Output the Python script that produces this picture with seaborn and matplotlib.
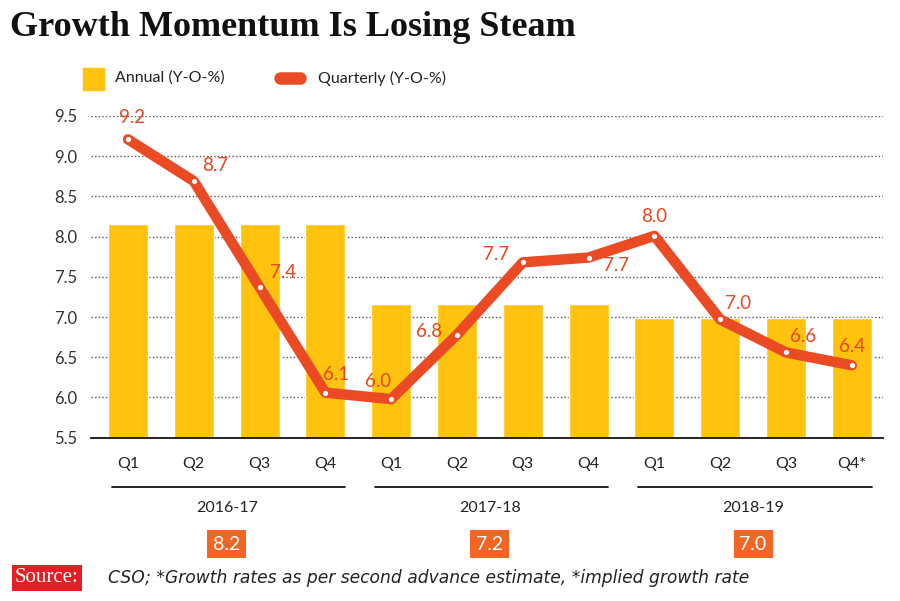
import matplotlib
matplotlib.use("Agg")
import matplotlib.pyplot as plt
import matplotlib.transforms as mtransforms
from matplotlib.patches import Rectangle
from matplotlib.lines import Line2D
import seaborn as sns
import pandas as pd

# ---- data ----
quarters = ["Q1", "Q2", "Q3", "Q4", "Q1", "Q2", "Q3", "Q4", "Q1", "Q2", "Q3", "Q4*"]
years = ["2016-17", "2017-18", "2018-19"]
annual_values = [8.16, 7.16, 6.99]
annual_labels = ["8.2", "7.2", "7.0"]
quarterly_values = [9.21, 8.69, 7.37, 6.06, 5.98, 6.78, 7.68, 7.74, 8.01, 6.97, 6.56, 6.40]
quarterly_labels = ["9.2", "8.7", "7.4", "6.1", "6.0", "6.8", "7.7", "7.7", "8.0", "7.0", "6.6", "6.4"]
yticks = [5.5, 6.0, 6.5, 7.0, 7.5, 8.0, 8.5, 9.0, 9.5]

# label offsets (pixels) relative to points
label_offsets = [(4, 22), (21, 16), (23, 15), (11, 18), (-13, 18), (-28, 3),
                 (-27, 8), (27, -8), (0, 19), (18, 16), (17, 16), (0, 19)]

BAR = "#FFC20E"
LINE = "#EA4B24"
LABEL = "#E8461E"
BOX = "#F26522"

sns.set_theme(style="white")
plt.rcParams["font.family"] = ["Lato", "DejaVu Sans"]

fig = plt.figure(figsize=(9, 6.01), dpi=100)
ax = fig.add_axes([91 / 900, 1 - 437.7 / 601, 792 / 900, 321.7 / 601])

idx = list(range(len(quarters)))
bar_vals = [annual_values[i // 4] for i in idx]
df = pd.DataFrame({"pos": idx, "annual": bar_vals, "quarterly": quarterly_values})

# grid lines (dotted) behind bars
for yv in yticks[1:]:
    ax.axhline(yv, color="#555555", linestyle=(0, (1, 1.6)), linewidth=1.0, zorder=0)

sns.barplot(data=df, x="pos", y="annual", color=BAR, width=40 / 65.8,
            saturation=1, ax=ax, zorder=2, native_scale=True)
sns.lineplot(data=df, x="pos", y="quarterly", color=LINE, linewidth=7.5, ax=ax,
             zorder=3, solid_joinstyle="round", solid_capstyle="round")
ax.scatter(idx, quarterly_values, s=14, color="white", zorder=4, linewidths=0)

for i, (v, lab) in enumerate(zip(quarterly_values, quarterly_labels)):
    dx, dy = label_offsets[i]
    ax.annotate(lab, (i, v), xytext=(dx, dy), textcoords="offset pixels",
                ha="center", va="center", color=LABEL, fontsize=13.5, zorder=5)

ax.set_xlim(-0.562, 11.474)
ax.set_ylim(5.5, 9.5)
ax.set_yticks(yticks)
ax.set_yticklabels([f"{t:.1f}" for t in yticks], fontsize=12, color="#333333")
ax.set_xticks(idx)
ax.set_xticklabels(quarters, fontsize=11.5, color="#222222")
ax.tick_params(axis="both", length=0)
ax.tick_params(axis="x", pad=14)
ax.tick_params(axis="y", pad=10)
ax.set_xlabel("")
ax.set_ylabel("")
for s in ["top", "right", "left"]:
    ax.spines[s].set_visible(False)
ax.spines["bottom"].set_color("#111111")
ax.spines["bottom"].set_linewidth(1.3)
ax.spines["bottom"].set_zorder(6)

# group lines, year labels, annual boxes
trans = mtransforms.blended_transform_factory(ax.transData, fig.transFigure)
for g, (yr, lab) in enumerate(zip(years, annual_labels)):
    x0 = g * 4 - 0.25
    x1 = g * 4 + 3.3
    ax.add_line(Line2D([x0, x1], [1 - 487 / 601] * 2, transform=trans,
                       color="#111111", linewidth=1.3, clip_on=False))
    cx = g * 4 + 1.5
    ax.text(cx, 1 - 508 / 601, yr, transform=trans, ha="center", va="center",
            fontsize=11.5, color="#222222")
    ax.text(cx, 1 - 544 / 601, lab, transform=trans, ha="center", va="center",
            fontsize=14, color="white",
            bbox=dict(boxstyle="square,pad=0.3", fc=BOX, ec="none"))

# title
fig.text(10 / 900, 1 - 28 / 601, "Growth Momentum Is Losing Steam",
         fontsize=26, fontweight="bold", family=["Liberation Serif", "DejaVu Serif"],
         color="#111111", ha="left", va="center")

# legend
fig.patches.append(Rectangle((83 / 900, 1 - 90 / 601), 21 / 900, 22 / 601,
                             transform=fig.transFigure, color=BAR))
fig.text(115 / 900, 1 - 78 / 601, "Annual (Y-O-%)", fontsize=11.5,
         color="#222222", ha="left", va="center")
fig.add_artist(Line2D([280 / 900, 300 / 900], [1 - 78 / 601] * 2,
                      transform=fig.transFigure, color=LINE, linewidth=9,
                      solid_capstyle="round"))
fig.text(318 / 900, 1 - 78 / 601, "Quarterly (Y-O-%)", fontsize=11.5,
         color="#222222", ha="left", va="center")

# source
fig.text(15 / 900, 1 - 578 / 601, "Source:", fontsize=15,
         family=["Liberation Serif", "DejaVu Serif"], color="white",
         ha="left", va="center",
         bbox=dict(boxstyle="square,pad=0.15", fc="#E31E24", ec="none"))
fig.text(108 / 900, 1 - 578 / 601,
         "CSO; *Growth rates as per second advance estimate, *implied growth rate",
         fontsize=12.3, fontstyle="italic",
         family=["DejaVu Sans"], color="#222222",
         ha="left", va="center")

fig.savefig("out.png", dpi=100, facecolor="white")
